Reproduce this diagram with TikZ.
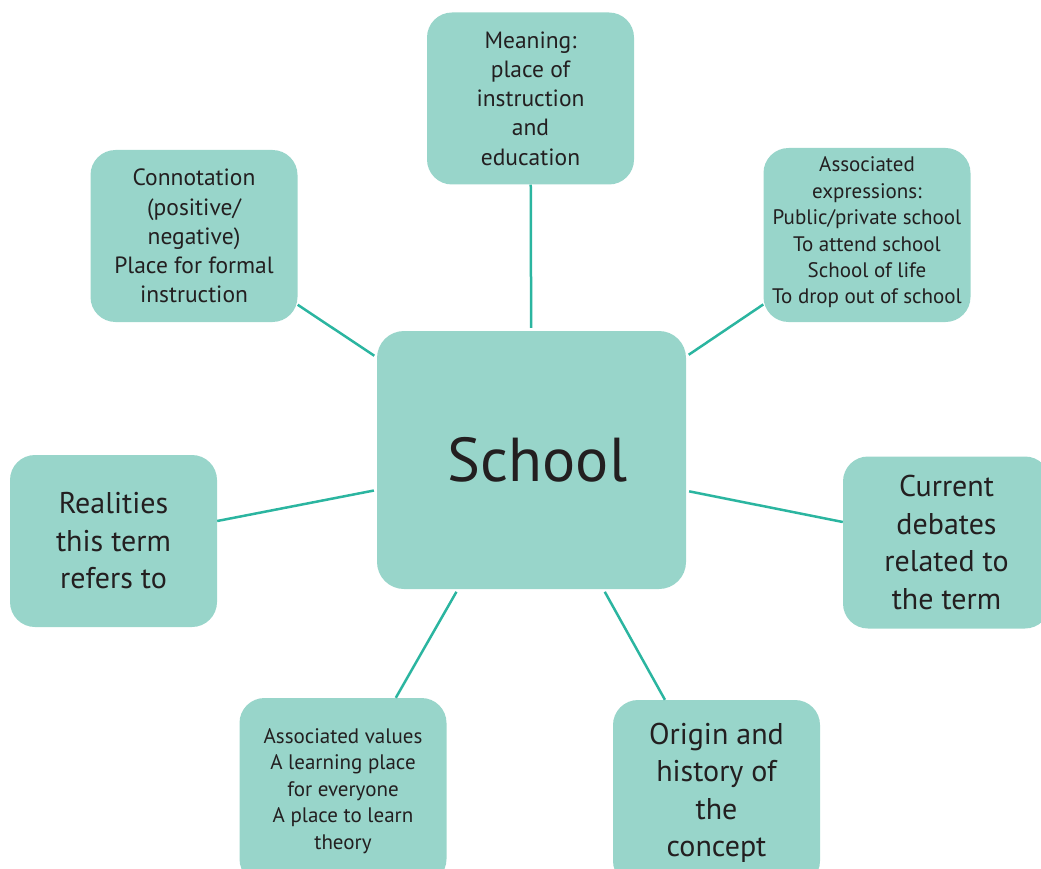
\documentclass[tikz,border=0pt]{standalone}
\usepackage{fontspec}
\setmainfont{PT Sans}
\definecolor{boxfill}{HTML}{98D5CA}
\definecolor{linkcol}{HTML}{2BB5A0}
\definecolor{txt}{HTML}{231F20}
\tikzset{
  topic/.style={rounded corners=25pt, fill=boxfill, minimum width=207pt, minimum height=172pt, align=center, inner sep=0pt, text=txt},
  hub/.style={rounded corners=27pt, fill=boxfill, minimum width=309pt, minimum height=258pt, inner sep=0pt, text=txt, font=\fontsize{62}{74}\selectfont},
  smalltxt/.style={font=\fontsize{21}{26.4}\selectfont},
  midtxt/.style={font=\fontsize{23.5}{29.2}\selectfont},
  bigtxt/.style={font=\fontsize{30}{37.5}\selectfont},
  link/.style={draw=linkcol, line width=2.5pt, shorten <=3pt}
}
\begin{document}
\begin{tikzpicture}[x=1pt,y=-1pt]
\useasboundingbox (0,0) rectangle (1041,869);
\clip (0,0) rectangle (1041,869);
\node[hub] (school) at (531.5,460) {\hspace*{12pt}School};
\node[topic,midtxt] (meaning) at (530.5,98.5) {\rule{0pt}{4pt}Meaning:\\place of\\instruction\\and\\education};
\node[topic,midtxt] (conn) at (194,236) {Connotation\\(positive/\\negative)\\Place for formal\\instruction};
\node[topic,smalltxt,minimum height=174pt] (expr) at (867,235) {Associated\\expressions:\\Public/private school\\To attend school\\School of life\\To drop out of school\rule[-9pt]{0pt}{1pt}};
\node[topic,bigtxt] (real) at (113.5,541) {Realities\\this term\\refers to};
\node[topic,bigtxt] (debate) at (946.5,542.5) {Current\\debates\\related to\\the term};
\node[topic,smalltxt,minimum height=186pt] (values) at (343,791) {Associated values\\A learning place\\for everyone\\A place to learn\\theory};
\node[topic,bigtxt,minimum height=186pt] (origin) at (716.5,793) {Origin and\\history of\\the\\concept};
\foreach \t in {meaning,conn,expr,real,debate,values,origin}
  \draw[link] (school) -- (\t);
\end{tikzpicture}
\end{document}
